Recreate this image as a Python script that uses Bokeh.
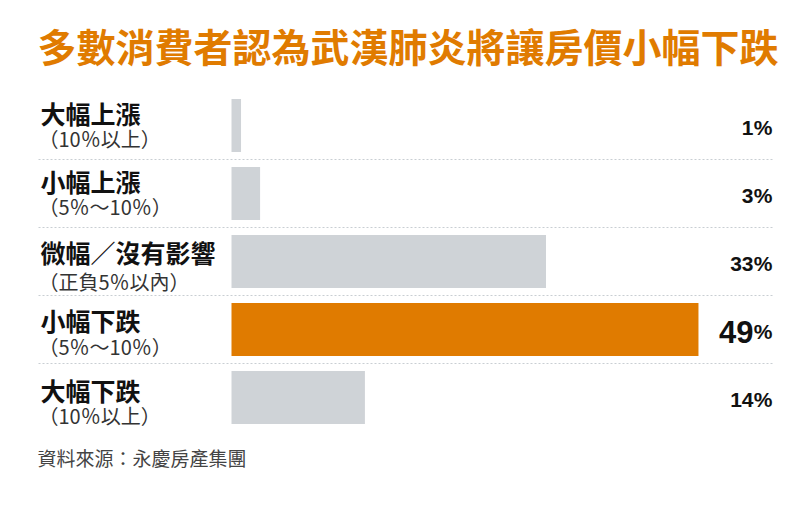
from bokeh.plotting import figure
from bokeh.models import Range1d, ColumnDataSource
from bokeh.core.properties import value
from bokeh.embed import file_html
from bokeh.resources import INLINE

# ---- data ----
title = "多數消費者認為武漢肺炎將讓房價小幅下跌"
categories = ["大幅上漲", "小幅上漲", "微幅／沒有影響", "小幅下跌", "大幅下跌"]
sublabels = ["（10％以上）", "（5％～10％）", "（正負5％以內）", "（5％～10％）", "（10％以上）"]
values = [1, 3, 33, 49, 14]
highlight = "小幅下跌"
source_note = "資料來源：永慶房產集團"

# ---- layout (pixel geometry of the page) ----
W, H = 784, 489
PX_PER_PCT = 9.53
X0 = 231              # frame x of 0%
ROW0 = 125            # frame y of first row centre
PITCH = 68.0

def xd(page_x):
    return (page_x - X0) / PX_PER_PCT

def yd(page_y):
    return (page_y - ROW0) / PITCH

ORANGE = "#E07B00"
GREY = "#CFD3D7"
CJK = "Noto Sans CJK TC"
LAT = "Liberation Sans"

p = figure(width=W, height=H, output_backend="svg", toolbar_location=None,
           x_range=Range1d(-X0 / PX_PER_PCT, (W - X0) / PX_PER_PCT),
           y_range=Range1d((H - ROW0) / PITCH, -ROW0 / PITCH),
           min_border=0, outline_line_color=None, background_fill_color="white",
           border_fill_color="white")
p.axis.visible = False
p.grid.visible = False

rows = list(range(len(categories)))
colors = [ORANGE if c == highlight else GREY for c in categories]
src = ColumnDataSource(dict(y=rows, v=values, c=colors))

# separators
sep_y = [r + 0.5 for r in rows[:-1]]
p.segment(x0=[xd(38)] * len(sep_y), x1=[xd(773)] * len(sep_y), y0=sep_y, y1=sep_y,
          line_color="#C9CED3", line_width=1, line_dash="2 2")

# bars
p.hbar(y="y", left=0, right="v", height=0.78, fill_color="c", line_color=None, source=src)

# title
p.text(x=[xd(37)], y=[yd(44)], text=[title], text_font=value(CJK), text_font_style="bold",
       text_font_size="39px", text_color=ORANGE, text_baseline="middle", text_align="left")

# left labels
main_dy = [-13, -13, -10, -10, -8]
sub_dy = [13, 13, 20, 17, 18]
p.text(x=[xd(40)] * len(rows), y=rows, text=categories, y_offset=main_dy,
       text_font=value(CJK), text_font_style="bold", text_font_size="25px",
       text_color="#111111", text_baseline="middle", text_align="left")
p.text(x=[xd(38)] * len(rows), y=rows, text=sublabels, y_offset=sub_dy,
       text_font=value("Noto Sans CJK JP"), text_font_size="20px",
       text_color="#333333", text_baseline="middle", text_align="left")

# value labels
num_sizes = ["31px" if c == highlight else "21px" for c in categories]
p.text(x=[xd(772)] * len(rows), y=rows, text=["%"] * len(rows), y_offset=2,
       text_font=value(LAT), text_font_style="bold", text_font_size="21px",
       text_color="#111111", text_baseline="middle", text_align="right")
p.text(x=[xd(753)] * len(rows), y=rows, text=[str(v) for v in values],
       y_offset=2,
       text_font=value(LAT), text_font_style="bold", text_font_size=num_sizes,
       text_color="#111111", text_baseline="middle", text_align="right")

# source note
p.text(x=[xd(37)], y=[yd(457)], text=[source_note], text_font=value(CJK),
       text_font_size="19px", text_color="#444444", text_baseline="middle", text_align="left")

open("out.html", "w").write(file_html(p, INLINE))
